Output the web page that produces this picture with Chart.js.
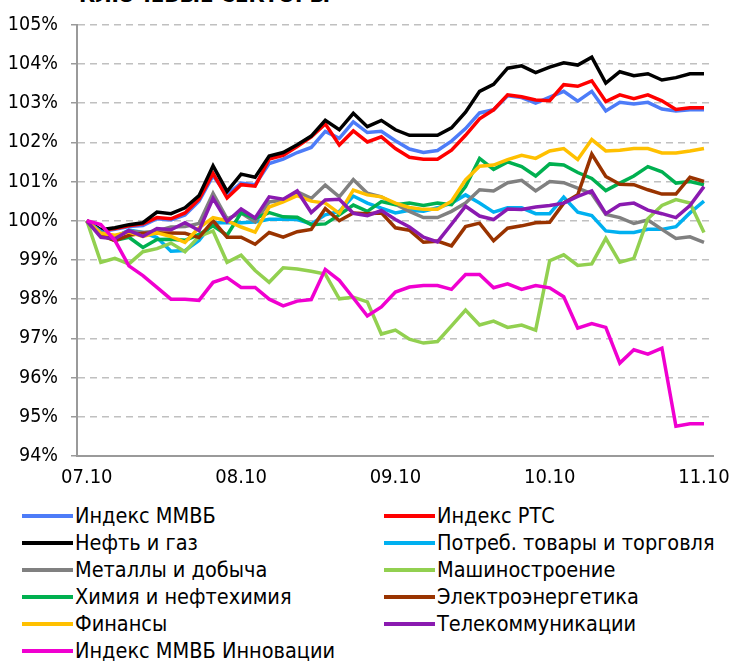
<!DOCTYPE html>
<html>
<head>
<meta charset="utf-8">
<script src="https://cdn.jsdelivr.net/npm/chart.js@4.4.0/dist/chart.umd.min.js"></script>
<style>
  html, body { margin: 0; padding: 0; background: #fff; overflow: hidden; }
  body { width: 740px; height: 661px; position: relative; font-family: 'DejaVu Sans Condensed', 'DejaVu Sans', sans-serif; }
  #title { position: absolute; left: 79px; top: -18px; font-weight: bold; font-size: 22px; white-space: nowrap; }
  #wrap { position: absolute; left: 0; top: 0; width: 740px; height: 500px; }
  #legend { position: absolute; left: 22px; top: 502px; display: grid; grid-template-columns: 362px 340px; }
  .item { display: flex; align-items: center; height: 27px; font-size: 21.5px; color: #000; white-space: nowrap; }
  .item .swatch { display: inline-block; width: 51px; height: 4px; margin-right: 2px; }
</style>
</head>
<body>
<div id="title">КЛЮЧЕВЫЕ СЕКТОРЫ</div>
<div id="wrap"><canvas id="chart"></canvas></div>
<div id="legend"></div>
<script>
// x-axis tick labels (every 11th observation)
const dateLabels = ['07.10', '08.10', '09.10', '10.10', '11.10'];
const dateTickIdx = [0, 11, 22, 33, 44];

const seriesNames = [
    'Индекс ММВБ', 'Индекс РТС', 'Нефть и газ', 'Потреб. товары и торговля',
    'Металлы и добыча', 'Машиностроение', 'Химия и нефтехимия', 'Электроэнергетика',
    'Финансы', 'Телекоммуникации', 'Индекс ММВБ Инновации'
];
const seriesColors = [
    '#4D7CF8', '#FF0000', '#000000', '#00B0F0',
    '#808080', '#92D050', '#00B050', '#993300',
    '#FFC000', '#8A1AB0', '#F000D0'
];

const mmvb = [100, 99.72, 99.78, 99.85, 99.88, 100.05, 100.02, 100.15, 100.5, 101.15, 100.66, 100.96, 100.92, 101.46, 101.57, 101.74, 101.87, 102.28, 102.1, 102.52, 102.25, 102.28, 102.04, 101.83, 101.74, 101.79, 102.03, 102.35, 102.75, 102.83, 103.19, 103.14, 103.0, 103.15, 103.3, 103.05, 103.3, 102.8, 103.02, 102.98, 103.02, 102.85, 102.8, 102.83, 102.83];
const rts = [100, 99.75, 99.8, 99.87, 99.92, 100.08, 100.05, 100.2, 100.55, 101.21, 100.58, 100.92, 100.88, 101.57, 101.67, 101.89, 102.14, 102.47, 101.93, 102.29, 102.01, 102.14, 101.84, 101.62, 101.57, 101.57, 101.8, 102.18, 102.6, 102.83, 103.21, 103.16, 103.08, 103.06, 103.47, 103.43, 103.57, 103.04, 103.21, 103.11, 103.21, 103.06, 102.84, 102.88, 102.88];
const oilGas = [100, 99.77, 99.82, 99.9, 99.95, 100.22, 100.18, 100.33, 100.64, 101.4, 100.75, 101.19, 101.11, 101.65, 101.74, 101.94, 102.16, 102.56, 102.32, 102.74, 102.4, 102.56, 102.32, 102.18, 102.18, 102.18, 102.37, 102.77, 103.3, 103.48, 103.89, 103.95, 103.78, 103.92, 104.03, 103.97, 104.17, 103.51, 103.8, 103.7, 103.75, 103.59, 103.65, 103.75, 103.75];
const consumer = [100, 99.73, 99.58, 99.76, 99.7, 99.57, 99.22, 99.24, 99.5, 99.95, 99.95, 99.95, 99.97, 100.04, 100.04, 100.03, 99.92, 100.15, 100.24, 100.63, 100.45, 100.32, 100.2, 100.27, 100.24, 100.33, 100.45, 100.66, 100.45, 100.22, 100.33, 100.33, 100.18, 100.18, 100.6, 100.22, 100.13, 99.74, 99.7, 99.7, 99.78, 99.78, 99.85, 100.2, 100.5];
const metals = [100, 99.7, 99.6, 99.74, 99.7, 99.74, 99.84, 99.85, 99.93, 100.7, 100.05, 100.2, 99.97, 100.48, 100.53, 100.74, 100.57, 100.91, 100.61, 101.05, 100.7, 100.61, 100.42, 100.24, 100.08, 100.08, 100.24, 100.45, 100.79, 100.76, 100.97, 101.03, 100.76, 101.0, 100.97, 100.83, 100.69, 100.16, 100.08, 99.93, 100.02, 99.78, 99.55, 99.59, 99.45];
const machinery = [100, 98.94, 99.04, 98.9, 99.21, 99.29, 99.43, 99.21, 99.6, 99.74, 98.94, 99.12, 98.73, 98.43, 98.8, 98.77, 98.71, 98.64, 98.01, 98.05, 97.93, 97.11, 97.21, 96.98, 96.88, 96.92, 97.32, 97.72, 97.34, 97.44, 97.28, 97.34, 97.21, 98.98, 99.13, 98.86, 98.9, 99.55, 98.94, 99.04, 100.05, 100.39, 100.54, 100.45, 99.7];
const chemistry = [100, 99.65, 99.5, 99.58, 99.32, 99.52, 99.53, 99.5, 99.65, 99.87, 99.63, 100.2, 100.06, 100.21, 100.1, 100.09, 99.9, 99.92, 100.15, 100.4, 100.24, 100.49, 100.41, 100.45, 100.39, 100.45, 100.41, 100.87, 101.59, 101.31, 101.5, 101.38, 101.14, 101.45, 101.42, 101.23, 101.08, 100.77, 100.96, 101.14, 101.38, 101.25, 100.96, 101.0, 100.92];
const power = [100, 99.63, 99.49, 99.63, 99.68, 99.69, 99.69, 99.68, 99.57, 100.0, 99.58, 99.58, 99.4, 99.7, 99.58, 99.72, 99.78, 100.31, 100.0, 100.2, 100.18, 100.2, 99.82, 99.76, 99.45, 99.48, 99.36, 99.85, 99.94, 99.49, 99.81, 99.87, 99.95, 99.96, 100.45, 100.66, 101.7, 101.13, 100.93, 100.92, 100.79, 100.68, 100.68, 101.11, 101.0];
const finance = [100, 99.68, 99.63, 99.71, 99.6, 99.69, 99.6, 99.45, 99.82, 100.08, 100.0, 99.84, 99.71, 100.35, 100.48, 100.64, 100.5, 100.45, 100.19, 100.78, 100.66, 100.61, 100.45, 100.34, 100.29, 100.29, 100.5, 101.04, 101.39, 101.42, 101.56, 101.67, 101.59, 101.78, 101.84, 101.56, 102.07, 101.78, 101.8, 101.84, 101.84, 101.73, 101.73, 101.78, 101.84];
const telecom = [100, 99.58, 99.54, 99.75, 99.6, 99.8, 99.77, 99.95, 99.75, 100.57, 99.98, 100.3, 100.07, 100.61, 100.55, 100.76, 100.21, 100.53, 100.55, 100.19, 100.13, 100.26, 100.03, 99.84, 99.58, 99.46, 99.91, 100.37, 100.12, 100.03, 100.3, 100.29, 100.35, 100.39, 100.45, 100.62, 100.76, 100.18, 100.41, 100.45, 100.27, 100.18, 100.08, 100.39, 100.87];
const innovation = [100, 99.9, 99.5, 98.85, 98.6, 98.3, 98.0, 98.0, 97.97, 98.43, 98.55, 98.3, 98.3, 98.0, 97.83, 97.95, 97.99, 98.76, 98.48, 98.03, 97.57, 97.8, 98.18, 98.31, 98.35, 98.35, 98.25, 98.63, 98.63, 98.29, 98.39, 98.25, 98.35, 98.29, 98.06, 97.26, 97.38, 97.28, 96.37, 96.71, 96.6, 96.75, 94.76, 94.82, 94.82];

const seriesValues = [mmvb, rts, oilGas, consumer, metals, machinery, chemistry, power, finance, telecom, innovation];

const fontFamily = "'DejaVu Sans Condensed', 'DejaVu Sans', sans-serif";

const datasets = seriesValues.map((vals, i) => ({
    label: seriesNames[i],
    data: vals.map((v, k) => ({ x: k, y: v })),
    borderColor: seriesColors[i],
    backgroundColor: seriesColors[i],
    borderWidth: 3.5,
    pointRadius: 0,
    tension: 0,
    fill: false,
    // later series are drawn on top, like the source
    order: seriesValues.length - i,
}));

new Chart(document.getElementById('chart'), {
    type: 'line',
    data: { datasets },
    options: {
        responsive: true,
        maintainAspectRatio: false,
        animation: false,
        layout: { padding: { top: 20, right: 19, left: 0, bottom: 0 } },
        plugins: {
            legend: { display: false },
            tooltip: { enabled: false },
        },
        scales: {
            x: {
                type: 'linear',
                min: -0.7,
                max: 44.65,
                afterFit: (scale) => { scale.height = 44; },
                afterBuildTicks: (scale) => {
                    scale.ticks = dateTickIdx.map(v => ({ value: v }));
                },
                grid: { display: false, drawTicks: false },
                border: { display: true, color: '#9A9A9A', width: 2 },
                ticks: {
                    autoSkip: false,
                    maxRotation: 0,
                    padding: 10,
                    color: '#000',
                    font: { family: fontFamily, size: 20 },
                    callback: (v) => dateLabels[dateTickIdx.indexOf(v)],
                },
            },
            y: {
                min: 94,
                max: 105,
                afterFit: (scale) => { scale.width = 77; },
                grid: {
                    color: '#C0C0C0',
                    lineWidth: 1.5,
                    tickLength: 6,
                    tickColor: '#9A9A9A',
                    tickWidth: 1.5,
                    tickBorderDash: [],
                },
                border: { display: true, color: '#9A9A9A', width: 2, dash: [7, 5] },
                ticks: {
                    stepSize: 1,
                    padding: 13,
                    color: '#000',
                    font: { family: fontFamily, size: 19.5 },
                    callback: (v) => v + '%',
                },
            },
        },
    },
});

// two-column legend like the source
const legendEl = document.getElementById('legend');
seriesNames.forEach((name, i) => {
    const item = document.createElement('div');
    item.className = 'item';
    const sw = document.createElement('span');
    sw.className = 'swatch';
    sw.style.background = seriesColors[i];
    item.appendChild(sw);
    item.appendChild(document.createTextNode(name));
    legendEl.appendChild(item);
});
</script>
</body>
</html>
